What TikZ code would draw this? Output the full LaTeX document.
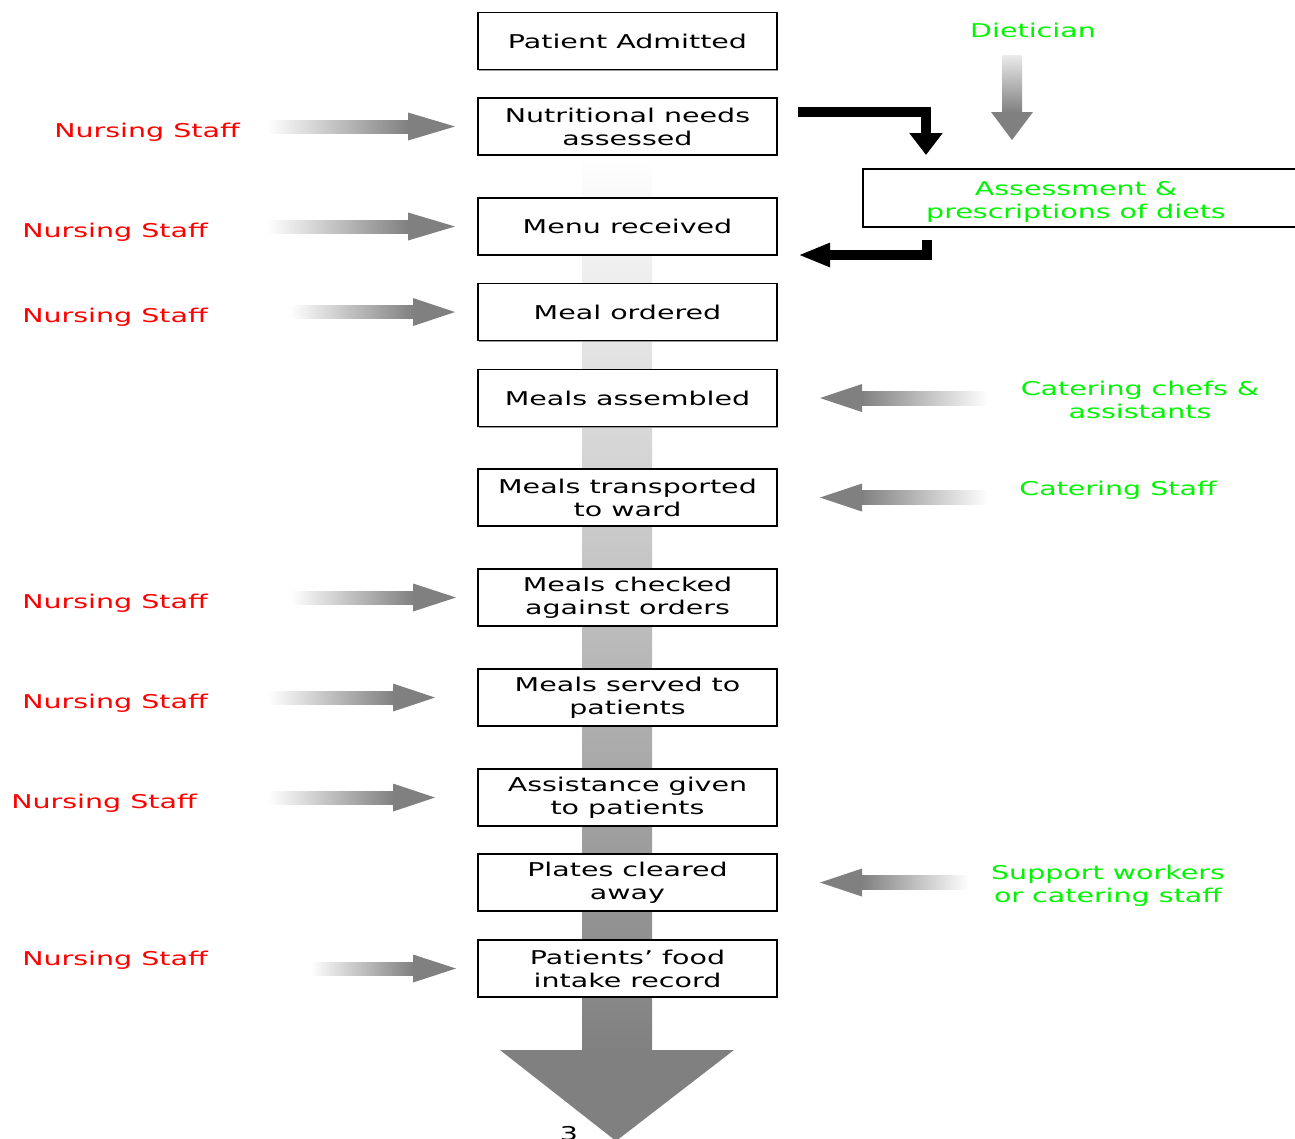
\documentclass[tikz,border=0pt]{standalone}
\usepackage{fontspec}
\setmainfont{DejaVu Sans}[FakeStretch=1.5]
\usetikzlibrary{arrows.meta,shadows}
\definecolor{agray}{RGB}{128,128,128}
\definecolor{lime}{RGB}{0,245,0}
% gradient arrow pointing right: start x, head base x, tip x, centre y
\newcommand\GArrR[4]{%
  \shade[left color=white, right color=agray] (#1,#4-6.5) rectangle (#2+0.5,#4+6.5);
  \fill[agray] (#2,#4-14) -- (#3,#4) -- (#2,#4+14) -- cycle;}
% gradient arrow pointing left: tip x, head base x, end x, centre y
\newcommand\GArrL[4]{%
  \shade[left color=agray, right color=white] (#2-0.5,#4-7) rectangle (#3,#4+7);
  \fill[agray] (#2,#4-14) -- (#1,#4) -- (#2,#4+14) -- cycle;}
\newcommand\TwoL[2]{\begin{tabular}[t]{@{}c@{}}#1\\#2\end{tabular}}
\begin{document}
\begin{tikzpicture}[x=1pt,y=-1pt,
  txt/.style={font=\fontsize{19}{23}\selectfont},
  box/.style={txt, draw, line width=1.5pt, fill=white, minimum width=299pt,
    minimum height=57pt, inner sep=0pt, align=center,
    drop shadow={shadow xshift=1.2pt, shadow yshift=-1.2pt, fill=black!40, opacity=1}},
  nurse/.style={txt, text=red, anchor=base, inner sep=0pt},
  staff/.style={txt, text=lime, anchor=base, inner sep=0pt},
  blk/.style={line width=10pt, draw=black, line join=miter}]
\useasboundingbox (0,0) rectangle (1295,1138);
\clip (0,0) rectangle (1295,1138);

% big background arrow
\shade[top color=white, bottom color=agray] (582,155) rectangle (652,1051);
\fill[agray] (500,1050) -- (734,1050) -- (616,1141) -- cycle;
\node[txt, anchor=base, inner sep=0pt] (pagenum) at (569,1140.5) {3};

% process boxes
\node[box] (b1) at (627.5,41) {Patient Admitted};
\node[box] (b2) at (627.5,126.5) {Nutritional needs\\assessed};
\node[box] (b3) at (627.5,226.5) {Menu received};
\node[box] (b4) at (627.5,312) {Meal ordered};
\node[box] (b5) at (627.5,398) {Meals assembled};
\node[box] (b6) at (627.5,497.5) {Meals transported\\to ward};
\node[box] (b7) at (627.5,597.5) {Meals checked\\against orders};
\node[box] (b8) at (627.5,697.5) {Meals served to\\patients};
\node[box] (b9) at (627.5,797.5) {Assistance given\\to patients};
\node[box] (b10) at (627.5,882.5) {Plates cleared\\away};
\node[box] (b11) at (627.5,968.5) {Patients’ food\\intake record};

% assessment box
\node[draw, line width=1.5pt, fill=white, minimum width=440pt, minimum height=58pt,
  inner sep=0pt, anchor=north west,
  drop shadow={shadow xshift=1.2pt, shadow yshift=-1.2pt, fill=black!40, opacity=1}]
  (assess) at (862,168) {};
\node[staff] (assesstxt) at (1076,195) {\TwoL{Assessment \&}{prescriptions of diets}};

% nursing staff labels and arrows
\node[nurse] (n2) at (147,137) {Nursing Staff};
\GArrR{267}{408}{455}{126.5}
\node[nurse] (n3) at (115,237) {Nursing Staff};
\GArrR{267}{408}{455}{226.5}
\node[nurse] (n4) at (115,322) {Nursing Staff};
\GArrR{290}{413}{455}{312}
\node[nurse] (n7) at (115,608) {Nursing Staff};
\GArrR{290}{413}{456}{597.5}
\node[nurse] (n8) at (115,708) {Nursing Staff};
\GArrR{268}{393}{435}{697.5}
\node[nurse] (n9) at (104,808) {Nursing Staff};
\GArrR{268}{393}{435}{797.5}
\node[nurse] (n11) at (115,965) {Nursing Staff};
\GArrR{310}{413}{456}{968.5}

% catering / support labels and arrows
\node[staff] (c5) at (1140,395) {\TwoL{Catering chefs \&}{assistants}};
\GArrL{820}{862}{988}{398}
\node[staff] (c6) at (1118,495) {Catering Staff};
\GArrL{820}{862}{988}{497.5}
\node[staff] (c10) at (1108,879) {\TwoL{Support workers}{or catering staff}};
\GArrL{820}{862}{969}{882.5}

% dietician
\node[staff] (diet) at (1033,37) {Dietician};
\shade[top color=black!8, bottom color=agray] (1002,55) rectangle (1022,112.5);
\fill[agray] (991,112) -- (1033,112) -- (1012,140) -- cycle;

% black elbow connectors
\coordinate (k1s) at (798,112);
\coordinate (k1e) at (926,155);
\draw[blk, -{Triangle[width=32pt,length=22pt]}] (k1s) -| (k1e);
\coordinate (k2s) at (927,240);
\coordinate (k2e) at (798,255);
\draw[blk, -{Triangle[width=22pt,length=32pt]}] (k2s) |- (k2e);
\end{tikzpicture}
\end{document}
